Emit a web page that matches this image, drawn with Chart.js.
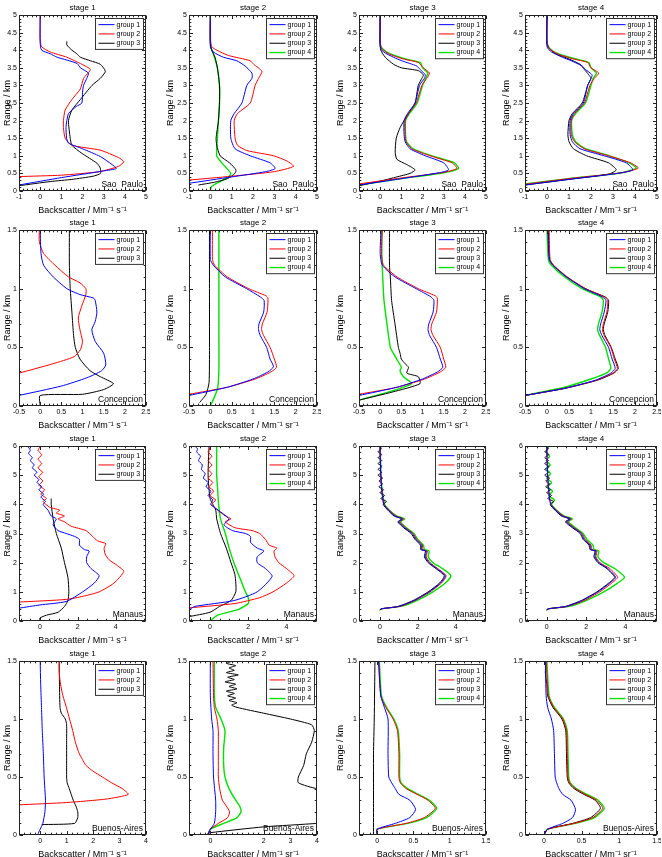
<!DOCTYPE html>
<html><head><meta charset="utf-8">
<script src="https://cdn.jsdelivr.net/npm/chart.js@4"></script>
<style>
html,body{margin:0;padding:0;background:#fff;}
body{width:662px;height:857px;overflow:hidden;position:relative;}
canvas{position:absolute;}
</style></head><body>
<script>
// ---------- text ----------
const GROUP_LABELS = ['group 1','group 2','group 3','group 4'];
const STAGE_TITLES = ['stage 1','stage 2','stage 3','stage 4'];
const CITIES = ['Sao  Paulo','Concepcion','Manaus','Buenos-Aires'];
const X_LABEL_S = 'Backscatter / Mm\u207B\u00B9 s\u207B\u00B9';
const X_LABEL_SR = 'Backscatter / Mm\u207B\u00B9 sr\u207B\u00B9';
const Y_LABEL = 'Range / km';

// ---------- tick labels ----------
const SP_XTICKS = [-1,0,1,2,3,4,5];
const SP_YTICKS = [0,0.5,1,1.5,2,2.5,3,3.5,4,4.5,5];
const CO_XTICKS = [-0.5,0,0.5,1,1.5,2,2.5];
const CO_YTICKS = [0,0.5,1,1.5];
const MA_XTICKS = [0,2,4];
const MA_YTICKS = [0,1,2,3,4,5,6];
const BA_XTICKS_A = [0,1,2,3,4];
const BA_XTICKS_B = [0,2,3,4];
const BA_XTICKS_C = [0,0.5,1,1.5];
const BA_YTICKS = [0,0.5,1,1.5];

// ---------- series: [backscatter, range km] ----------
// Sao Paulo
const SP1_G1 = [[-1,0.17],[1,0.38],[3,0.57],[3.6,0.64],[3.4,0.75],[2.84,0.98],[2.0,1.2],[1.34,1.36],[1.25,1.5],[1.22,1.8],[1.26,2.0],[1.34,2.2],[1.7,2.4],[1.97,2.5],[2.0,2.8],[2.05,3.0],[2.2,3.2],[2.28,3.35],[1.9,3.5],[1.75,3.62],[1.26,3.72],[0.8,3.8],[0.47,3.9],[0.07,4.0],[0,4.2],[0,5]];
const SP1_G2 = [[-1,0.41],[1,0.45],[2.8,0.55],[3.7,0.7],[3.95,0.83],[3.7,0.95],[2.84,1.16],[1.5,1.3],[1.18,1.5],[1.1,1.8],[1.1,2.0],[1.18,2.3],[1.5,2.6],[1.9,2.9],[2.05,3.2],[2.37,3.45],[1.97,3.6],[1.26,3.8],[0.47,3.95],[0.07,4.1],[0,4.3],[0,5]];
const SP1_G3 = [[-1,0.15],[0.5,0.27],[1.5,0.33],[2.5,0.42],[2.85,0.5],[2.84,0.65],[2.68,0.79],[1.97,1.07],[1.5,1.3],[1.42,1.5],[1.34,2.0],[1.5,2.3],[1.9,2.6],[2.45,3.0],[2.84,3.2],[3.08,3.4],[2.84,3.6],[2.37,3.7],[1.9,3.8],[1.73,3.9],[1.5,4.0],[1.26,4.15],[1.26,4.25]];
const SP2_G1 = [[-1,0.22],[1,0.4],[2.6,0.55],[3.04,0.64],[2.8,0.8],[1.87,1.0],[1.16,1.2],[0.96,1.5],[0.96,2.0],[1.12,2.2],[1.48,2.5],[1.71,3.0],[1.95,3.2],[1.95,3.35],[1.63,3.55],[1.24,3.7],[0.61,3.8],[0.14,3.95],[0,4.1],[0,5]];
const SP2_G2 = [[-1,0.31],[1,0.42],[3,0.55],[3.9,0.7],[3.6,0.85],[2.97,1.0],[1.71,1.15],[1.27,1.3],[1.16,1.5],[1.12,2.0],[1.27,2.2],[1.87,2.5],[2.1,3.0],[2.26,3.2],[2.42,3.4],[2.03,3.6],[1.87,3.7],[0.85,3.85],[0.3,4.0],[0.07,4.1],[0,4.3],[0,5]];
const SP2_G3 = [[-0.56,0.17],[0.2,0.25],[0.8,0.35],[1.15,0.5],[1.2,0.6],[0.9,0.8],[0.46,1.0],[0.3,1.3],[0.27,1.5],[0.38,2.0],[0.43,2.5],[0.43,3.0],[0.33,3.5],[0.22,3.8],[0.07,4.0],[0,4.2],[0,5]];
const SP2_G4 = [[0,0],[0.05,0.12],[0.3,0.22],[0.85,0.4],[0.96,0.5],[0.54,0.8],[0.3,1.0],[0.33,1.5],[0.38,2.0],[0.43,2.5],[0.43,3.0],[0.33,3.5],[0.14,3.9],[0.02,4.1],[0,5]];
const SP3_G1 = [[-1,0.17],[1,0.35],[2.8,0.52],[3.23,0.6],[3.0,0.8],[2.13,1.0],[1.41,1.2],[1.18,1.4],[1.13,1.6],[1.13,2.0],[1.29,2.2],[1.65,2.5],[1.86,3.0],[2.09,3.2],[2.13,3.3],[1.89,3.45],[1.73,3.55],[1.02,3.7],[0.63,3.8],[0.16,3.95],[0,4.1],[0,5]];
const SP3_G2 = [[-1,0.2],[1,0.37],[3,0.53],[3.62,0.64],[3.4,0.8],[2.36,1.0],[1.49,1.2],[1.22,1.4],[1.18,1.6],[1.18,2.0],[1.34,2.2],[1.7,2.5],[1.97,3.0],[2.2,3.2],[2.33,3.35],[2.04,3.5],[1.8,3.65],[1.1,3.75],[0.39,3.9],[0.08,4.05],[0,4.2],[0,5]];
const SP3_G3 = [[-1,0.15],[0,0.28],[0.79,0.4],[1.41,0.5],[1.65,0.6],[1.26,0.75],[0.79,0.9],[0.71,1.1],[0.76,1.5],[0.94,1.8],[1.13,2.0],[1.34,2.2],[1.65,2.5],[1.8,3.0],[1.97,3.2],[2.04,3.3],[1.8,3.42],[1.0,3.5],[0.63,3.6],[0.24,3.8],[0.03,4.0],[0,4.2],[0,5]];
const SP3_G4 = [[-1,0.17],[1,0.35],[3,0.52],[3.7,0.64],[3.5,0.8],[2.45,1.0],[1.55,1.2],[1.25,1.4],[1.2,1.6],[1.2,2.0],[1.38,2.2],[1.75,2.5],[2.0,3.0],[2.15,3.2],[2.25,3.35],[2.0,3.5],[1.9,3.65],[1.2,3.75],[0.45,3.9],[0.1,4.05],[0,4.2],[0,5]];
const SP4_G1 = [[-1,0.17],[1,0.33],[3.2,0.5],[3.9,0.6],[3.6,0.8],[2.6,1.0],[1.5,1.2],[1.15,1.4],[1.05,1.6],[1.05,2.0],[1.2,2.2],[1.65,2.5],[1.85,3.0],[2.0,3.2],[2.05,3.3],[1.75,3.45],[1.6,3.55],[1.1,3.7],[0.7,3.8],[0.2,3.95],[0,4.1],[0,5]];
const SP4_G2 = [[-1,0.19],[1,0.35],[3.4,0.52],[4.15,0.65],[3.8,0.8],[2.8,1.0],[1.7,1.2],[1.25,1.4],[1.1,1.6],[1.1,2.0],[1.25,2.2],[1.7,2.5],[1.95,3.0],[2.15,3.2],[2.35,3.35],[2.0,3.5],[1.85,3.65],[1.2,3.75],[0.45,3.9],[0.1,4.05],[0,4.2],[0,5]];
const SP4_G3 = [[-1,0.17],[1,0.33],[2.8,0.48],[3.15,0.6],[2.8,0.8],[1.8,1.0],[1.2,1.2],[1.0,1.4],[0.95,1.6],[1.0,2.0],[1.15,2.2],[1.6,2.5],[1.85,3.0],[2.0,3.2],[1.9,3.3],[1.7,3.45],[1.5,3.6],[1.0,3.75],[0.4,3.9],[0.1,4.05],[0,4.2],[0,5]];
const SP4_G4 = [[-1,0.2],[1,0.35],[3.4,0.52],[4.05,0.65],[3.75,0.8],[2.85,1.0],[1.75,1.2],[1.3,1.4],[1.15,1.6],[1.12,2.0],[1.3,2.2],[1.75,2.5],[2.0,3.0],[2.1,3.2],[2.25,3.35],[2.0,3.5],[1.9,3.65],[1.3,3.75],[0.5,3.9],[0.12,4.05],[0,4.2],[0,5]];
// Concepcion
const CO1_G1 = [[-0.5,0.09],[0.5,0.17],[1.1,0.24],[1.45,0.3],[1.55,0.35],[1.5,0.45],[1.3,0.55],[1.22,0.65],[1.3,0.72],[1.34,0.8],[1.3,0.9],[1.26,0.92],[0.94,0.95],[0.63,1.0],[0.31,1.1],[0.08,1.2],[0.02,1.3],[0,1.5]];
const CO1_G2 = [[-0.5,0.28],[0.3,0.36],[0.8,0.42],[0.95,0.48],[1.0,0.55],[0.94,0.65],[0.9,0.75],[0.98,0.85],[1.08,0.95],[1.08,1.0],[0.94,1.05],[0.67,1.1],[0.35,1.2],[0.08,1.3],[-0.02,1.4],[-0.02,1.5]];
const CO1_G3 = [[0,0],[0,0.09],[1.0,0.1],[1.5,0.14],[1.73,0.19],[1.42,0.25],[1.18,0.3],[0.94,0.4],[0.83,0.5],[0.79,0.6],[0.75,0.8],[0.71,1.0],[0.69,1.2],[0.69,1.5]];
const CO2_G1 = [[-0.5,0.09],[0.4,0.16],[1.0,0.23],[1.35,0.29],[1.48,0.335],[1.4,0.4],[1.32,0.5],[1.17,0.6],[1.13,0.65],[1.14,0.7],[1.25,0.8],[1.26,0.9],[1.17,0.93],[0.85,1.0],[0.35,1.1],[0.07,1.2],[0,1.25],[0,1.5]];
const CO2_G2 = [[-0.5,0.1],[0.4,0.16],[1.05,0.23],[1.42,0.29],[1.55,0.33],[1.5,0.4],[1.4,0.5],[1.25,0.6],[1.2,0.65],[1.22,0.7],[1.33,0.8],[1.35,0.92],[1.3,0.94],[0.9,1.0],[0.4,1.1],[0.1,1.2],[0.05,1.25],[0.05,1.5]];
const CO2_G3 = [[-0.25,0.03],[-0.1,0.1],[-0.03,0.2],[-0.02,0.5],[-0.02,1.0],[-0.02,1.5]];
const CO2_G4 = [[0,0],[0.1,0.08],[0.17,0.15],[0.2,0.3],[0.2,0.7],[0.2,1.0],[0.2,1.5]];
const CO3_G1 = [[-0.5,0.09],[0.4,0.16],[1.0,0.23],[1.35,0.29],[1.48,0.33],[1.42,0.4],[1.33,0.5],[1.17,0.6],[1.13,0.65],[1.15,0.7],[1.25,0.8],[1.27,0.9],[1.2,0.93],[0.85,1.0],[0.35,1.1],[0.05,1.2],[0.0,1.3],[0.02,1.5]];
const CO3_G2 = [[-0.5,0.1],[0.4,0.16],[1.05,0.23],[1.42,0.29],[1.55,0.33],[1.5,0.4],[1.42,0.5],[1.25,0.6],[1.2,0.65],[1.22,0.7],[1.33,0.8],[1.35,0.92],[1.3,0.94],[0.9,1.0],[0.4,1.1],[0.08,1.2],[0.03,1.3],[0.05,1.5]];
const CO3_G3 = [[-0.5,0.05],[0.3,0.12],[0.94,0.19],[0.9,0.25],[0.63,0.28],[0.67,0.33],[0.59,0.36],[0.5,0.4],[0.47,0.45],[0.43,0.5],[0.35,0.7],[0.27,0.9],[0.24,1.1],[0.22,1.2],[0.22,1.5]];
const CO3_G4 = [[-0.5,0.05],[0.2,0.12],[0.74,0.19],[0.55,0.25],[0.47,0.3],[0.5,0.33],[0.39,0.4],[0.31,0.45],[0.24,0.5],[0.16,0.7],[0.09,0.9],[0.06,1.1],[0.04,1.3],[0.04,1.5]];
const CO4_G1 = [[-0.5,0.09],[0.4,0.15],[1.1,0.22],[1.45,0.28],[1.55,0.32],[1.48,0.4],[1.4,0.5],[1.25,0.6],[1.2,0.65],[1.22,0.7],[1.3,0.8],[1.34,0.9],[1.26,0.93],[0.85,1.0],[0.44,1.1],[0.13,1.2],[0.05,1.25],[0.02,1.5]];
const CO4_G2 = [[-0.5,0.09],[0.4,0.15],[1.12,0.22],[1.5,0.28],[1.6,0.32],[1.53,0.4],[1.45,0.5],[1.3,0.6],[1.26,0.65],[1.28,0.7],[1.36,0.8],[1.38,0.9],[1.3,0.93],[0.88,1.0],[0.46,1.1],[0.15,1.2],[0.07,1.25],[0.05,1.5]];
const CO4_G3 = [[-0.5,0.09],[0.4,0.15],[1.15,0.22],[1.52,0.28],[1.62,0.32],[1.55,0.4],[1.46,0.5],[1.32,0.6],[1.28,0.65],[1.3,0.7],[1.38,0.8],[1.4,0.9],[1.32,0.93],[0.87,1.0],[0.45,1.1],[0.14,1.2],[0.06,1.25],[0.03,1.5]];
const CO4_G4 = [[-0.5,0.09],[0.4,0.16],[1.0,0.23],[1.35,0.28],[1.45,0.32],[1.4,0.4],[1.33,0.5],[1.2,0.6],[1.15,0.65],[1.17,0.7],[1.25,0.8],[1.28,0.9],[1.22,0.93],[0.8,1.0],[0.4,1.1],[0.1,1.2],[0.03,1.25],[0.0,1.5]];
// Manaus
const MA1_G1 = [[-1.1,0.44],[0,0.55],[1.39,0.67],[2.26,1.0],[2.87,1.3],[3.13,1.55],[2.7,1.8],[2.47,2.0],[2.47,2.2],[2.6,2.4],[2.35,2.45],[2.09,2.6],[2.09,2.8],[1.83,2.9],[1.39,3.0],[0.96,3.1],[0.7,3.3],[0.87,3.5],[0.6,3.6],[0.43,3.8],[0.17,4.0],[0.3,4.1],[0.05,4.25],[0.2,4.35],[-0.05,4.5],[0.1,4.6],[-0.15,4.75],[-0.05,4.85],[-0.3,5.0],[-0.15,5.1],[-0.4,5.25],[-0.3,5.35],[-0.5,5.5],[-0.4,5.6],[-0.6,5.75],[-0.5,5.85],[-0.65,6]];
const MA1_G2 = [[-1.1,0.65],[1.4,0.74],[2.3,0.85],[3.13,1.0],[3.91,1.3],[4.43,1.7],[4.09,1.9],[3.65,2.1],[3.44,2.3],[3.39,2.5],[3.48,2.65],[3.04,2.75],[2.78,2.9],[2.43,3.1],[1.65,3.25],[1.3,3.4],[0.96,3.5],[1.3,3.6],[0.87,3.7],[1.04,3.8],[0.52,3.9],[0.17,4.1],[0.35,4.2],[0.05,4.35],[0.25,4.5],[-0.05,4.65],[0.15,4.8],[-0.05,4.95],[0.15,5.1],[-0.1,5.25],[0.1,5.4],[-0.1,5.55],[0.1,5.7],[-0.1,5.85],[0.05,6]];
const MA1_G3 = [[0,0],[0,0.1],[0.35,0.2],[0.96,0.3],[1.3,0.5],[1.48,0.7],[1.53,1.0],[1.48,1.5],[1.3,2.0],[1.13,2.5],[0.87,3.0],[0.7,3.5],[0.6,4.0],[0.6,4.2]];
const MA2_G1 = [[-1.1,0.38],[-0.8,0.5],[1.25,0.7],[2.47,1.0],[3.25,1.53],[2.9,1.8],[2.47,2.0],[2.47,2.2],[2.82,2.4],[2.47,2.5],[2.12,2.7],[2.12,2.9],[1.86,3.0],[1.17,3.1],[0.73,3.3],[0.99,3.5],[0.64,3.7],[0.21,3.9],[0.03,4.0],[0.15,4.15],[-0.1,4.3],[0.05,4.45],[-0.2,4.6],[-0.1,4.75],[-0.35,4.9],[-0.25,5.05],[-0.45,5.2],[-0.4,5.35],[-0.6,5.5],[-0.5,5.65],[-0.7,5.8],[-0.65,5.9],[-0.8,6]];
const MA2_G2 = [[-1.1,0.45],[1.3,0.6],[2.6,0.8],[3.3,1.0],[4.0,1.3],[4.4,1.55],[4.0,1.8],[3.6,2.0],[3.4,2.2],[3.35,2.4],[3.5,2.5],[3.1,2.6],[2.9,2.8],[2.6,3.0],[2.2,3.1],[1.3,3.2],[0.8,3.4],[1.1,3.5],[0.8,3.6],[0.4,3.8],[0.1,4.0],[0.3,4.15],[0.0,4.3],[0.2,4.45],[-0.05,4.6],[0.15,4.75],[-0.1,4.9],[0.1,5.05],[-0.1,5.2],[0.1,5.35],[-0.1,5.5],[0.1,5.65],[-0.1,5.8],[0.05,6]];
const MA2_G3 = [[-1.1,0.15],[0,0.3],[0.5,0.5],[1.1,0.7],[1.35,1.0],[1.35,1.3],[1.3,1.6],[1.1,2.0],[0.85,2.5],[0.55,3.0],[0.35,3.5],[0.3,3.8],[0.15,4.0],[0,4.2],[-0.1,5],[-0.05,6]];
const MA2_G4 = [[0,0],[0.4,0.2],[1.5,0.4],[2.0,0.6],[2.0,0.8],[1.85,1.0],[1.55,1.5],[1.25,2.0],[1.0,2.5],[0.8,3.0],[0.55,3.5],[0.45,4.0],[0.4,4.5],[0.35,5],[0.35,6]];
const MA3_G1 = [[0,0.38],[0.1,0.42],[1.0,0.5],[1.8,0.7],[2.6,1.0],[3.2,1.3],[3.45,1.55],[3.0,1.8],[2.6,2.0],[2.4,2.2],[2.45,2.4],[2.2,2.45],[2.2,2.6],[1.9,2.8],[1.7,3.0],[1.3,3.2],[1.0,3.4],[1.2,3.5],[0.8,3.6],[0.45,3.8],[0.2,4.0],[0.1,4.5],[0.05,5],[0,6]];
const MA3_G2 = [[0,0.38],[0.1,0.42],[1.05,0.5],[1.85,0.7],[2.65,1.0],[3.25,1.3],[3.5,1.55],[3.05,1.8],[2.65,2.0],[2.45,2.2],[2.5,2.4],[2.25,2.45],[2.25,2.6],[1.95,2.8],[1.75,3.0],[1.35,3.2],[1.05,3.4],[1.25,3.5],[0.85,3.6],[0.5,3.8],[0.22,4.0],[0.1,4.5],[0.05,5],[0,6]];
const MA3_G3 = [[0,0.38],[0.1,0.42],[0.95,0.5],[1.75,0.7],[2.55,1.0],[3.15,1.3],[3.4,1.55],[2.95,1.8],[2.55,2.0],[2.35,2.2],[2.4,2.4],[2.15,2.45],[2.15,2.6],[1.85,2.8],[1.65,3.0],[1.25,3.2],[0.95,3.4],[1.15,3.5],[0.75,3.6],[0.42,3.8],[0.18,4.0],[0.35,4.1],[0.05,4.2],[0.25,4.3],[0.0,4.4],[0.2,4.5],[-0.05,4.6],[0.15,4.7],[-0.05,4.8],[0.15,4.9],[-0.1,5.0],[0.1,5.1],[-0.1,5.2],[0.12,5.3],[-0.1,5.4],[0.1,5.5],[-0.1,5.6],[0.1,5.7],[-0.1,5.8],[0.08,5.9],[0,6]];
const MA3_G4 = [[0,0.38],[0.1,0.42],[1.1,0.5],[1.95,0.7],[2.8,1.0],[3.45,1.3],[3.75,1.55],[3.3,1.8],[2.8,2.0],[2.55,2.2],[2.6,2.4],[2.35,2.45],[2.3,2.6],[2.0,2.8],[1.8,3.0],[1.4,3.2],[1.1,3.4],[1.3,3.5],[0.9,3.6],[0.5,3.8],[0.25,4.0],[0.12,4.5],[0.06,5],[0.02,6]];
const MA4_G1 = [[0,0.38],[0.1,0.42],[1.0,0.5],[1.8,0.7],[2.6,1.0],[3.2,1.3],[3.5,1.5],[3.1,1.8],[2.65,2.0],[2.45,2.2],[2.5,2.4],[2.25,2.45],[2.2,2.6],[1.9,2.8],[1.75,3.0],[1.35,3.2],[1.0,3.4],[1.2,3.5],[0.8,3.6],[0.45,3.8],[0.2,4.0],[0.1,4.5],[0.05,5],[0,6]];
const MA4_G2 = [[0,0.38],[0.1,0.42],[1.05,0.5],[1.9,0.7],[2.7,1.0],[3.3,1.3],[3.6,1.5],[3.2,1.8],[2.7,2.0],[2.5,2.2],[2.55,2.4],[2.3,2.45],[2.25,2.6],[1.95,2.8],[1.8,3.0],[1.4,3.2],[1.05,3.4],[1.25,3.5],[0.85,3.6],[0.5,3.8],[0.22,4.0],[0.1,4.5],[0.05,5],[0,6]];
const MA4_G3 = [[0,0.38],[0.1,0.42],[0.95,0.5],[1.75,0.7],[2.55,1.0],[3.15,1.3],[3.45,1.5],[3.05,1.8],[2.6,2.0],[2.4,2.2],[2.45,2.4],[2.2,2.45],[2.15,2.6],[1.85,2.8],[1.7,3.0],[1.3,3.2],[0.95,3.4],[1.15,3.5],[0.75,3.6],[0.42,3.8],[0.18,4.0],[0.35,4.1],[0.05,4.2],[0.25,4.3],[0.0,4.4],[0.2,4.5],[-0.05,4.6],[0.15,4.7],[-0.05,4.8],[0.15,4.9],[-0.1,5.0],[0.1,5.1],[-0.1,5.2],[0.12,5.3],[-0.1,5.4],[0.1,5.5],[-0.1,5.6],[0.1,5.7],[-0.1,5.8],[0.08,5.9],[0,6]];
const MA4_G4 = [[0,0.38],[0.1,0.42],[1.15,0.5],[2.0,0.7],[2.9,1.0],[3.6,1.3],[3.95,1.5],[3.45,1.8],[2.9,2.0],[2.6,2.2],[2.65,2.4],[2.4,2.45],[2.35,2.6],[2.05,2.8],[1.85,3.0],[1.45,3.2],[1.1,3.4],[1.3,3.5],[0.9,3.6],[0.5,3.8],[0.25,4.0],[0.4,4.15],[0.1,4.3],[0.3,4.45],[0.05,4.6],[0.25,4.75],[0.0,4.9],[0.2,5.05],[0.0,5.2],[0.18,5.35],[-0.02,5.5],[0.15,5.65],[0.0,5.8],[0.1,6]];
// Buenos Aires
const BA1_G1 = [[-0.1,0],[0,0.05],[0.1,0.1],[0.18,0.2],[0.2,0.3],[0.15,0.5],[0.12,0.7],[0.08,0.9],[0.05,1.1],[0.02,1.3],[0,1.5]];
const BA1_G2 = [[-0.8,0.26],[1.0,0.28],[2.5,0.31],[3.33,0.35],[3.1,0.4],[2.7,0.45],[2.35,0.5],[2.0,0.55],[1.73,0.6],[1.6,0.65],[1.48,0.7],[1.33,0.8],[1.23,0.9],[1.11,1.0],[0.99,1.1],[0.86,1.2],[0.77,1.3],[0.72,1.4],[0.72,1.5]];
const BA1_G3 = [[0.06,0.09],[1.3,0.1],[1.42,0.15],[1.42,0.2],[1.35,0.25],[1.25,0.3],[1.1,0.4],[1.02,0.45],[1.0,0.5],[1.0,0.6],[1.0,0.8],[1.0,0.95],[0.95,1.0],[0.8,1.05],[0.75,1.1],[0.73,1.3],[0.72,1.5]];
const BA2_G1 = [[-0.1,0],[0,0.05],[0.15,0.1],[0.2,0.2],[0.2,0.3],[0.12,0.5],[0.1,0.7],[0.1,0.9],[0.05,1.0],[0,1.2],[0,1.5]];
const BA2_G2 = [[-0.1,0],[0,0.05],[0.3,0.1],[0.65,0.15],[0.72,0.2],[0.6,0.25],[0.45,0.3],[0.35,0.4],[0.3,0.5],[0.3,0.6],[0.3,0.8],[0.3,0.9],[0.25,1.0],[0.15,1.1],[0.12,1.2],[0.1,1.5]];
const BA2_G3 = [[-0.1,0.01],[0,0.02],[2.0,0.07],[4.0,0.1],[6,0.14],[6,0.38],[4.0,0.4],[3.3,0.45],[3.3,0.5],[3.5,0.6],[3.6,0.7],[3.8,0.8],[3.9,0.9],[3.8,0.95],[3.0,1.0],[2.0,1.05],[1.0,1.1],[0.8,1.12],[1.0,1.14],[0.7,1.16],[0.95,1.18],[0.65,1.2],[0.9,1.22],[0.6,1.24],[1.0,1.26],[0.7,1.28],[0.95,1.3],[0.55,1.32],[0.9,1.34],[0.65,1.36],[1.05,1.38],[0.6,1.4],[0.9,1.42],[0.7,1.44],[0.95,1.46],[0.6,1.48],[0.85,1.5]];
const BA2_G4 = [[-0.1,0],[0,0.05],[0.5,0.1],[1.0,0.15],[1.15,0.2],[1.1,0.25],[0.95,0.3],[0.7,0.4],[0.55,0.5],[0.5,0.6],[0.5,0.75],[0.55,0.9],[0.4,1.0],[0.3,1.05],[0.2,1.1],[0.15,1.2],[0.15,1.5]];
const BA3_G1 = [[0,0],[0,0.05],[0.25,0.1],[0.45,0.15],[0.53,0.22],[0.45,0.3],[0.3,0.35],[0.25,0.4],[0.2,0.45],[0.16,0.5],[0.15,0.7],[0.15,1.0],[0.1,1.1],[0.05,1.2],[0.02,1.5]];
const BA3_G2 = [[0,0],[0,0.05],[0.4,0.1],[0.65,0.15],[0.8,0.23],[0.7,0.3],[0.55,0.35],[0.4,0.4],[0.32,0.45],[0.3,0.5],[0.3,0.7],[0.28,0.9],[0.22,1.0],[0.12,1.1],[0.05,1.2],[0.02,1.5]];
const BA3_G3 = [[-0.05,0],[-0.05,0.3],[-0.05,0.7],[-0.04,1.0],[-0.03,1.5]];
const BA3_G4 = [[0,0],[0,0.05],[0.42,0.1],[0.68,0.15],[0.82,0.23],[0.72,0.3],[0.57,0.35],[0.42,0.4],[0.33,0.45],[0.31,0.5],[0.31,0.7],[0.29,0.9],[0.23,1.0],[0.13,1.1],[0.06,1.2],[0.03,1.5]];
const BA4_G1 = [[0,0],[0.05,0.05],[0.25,0.1],[0.38,0.15],[0.42,0.22],[0.36,0.3],[0.25,0.35],[0.2,0.4],[0.17,0.45],[0.15,0.5],[0.14,0.7],[0.13,0.9],[0.1,1.0],[0.05,1.1],[0.03,1.2],[0.02,1.5]];
const BA4_G2 = [[0,0],[0.05,0.05],[0.4,0.1],[0.65,0.15],[0.78,0.23],[0.7,0.3],[0.55,0.35],[0.42,0.4],[0.34,0.45],[0.32,0.5],[0.31,0.7],[0.3,0.9],[0.25,1.0],[0.13,1.1],[0.06,1.2],[0.03,1.5]];
const BA4_G3 = [[0,0],[0.05,0.05],[0.38,0.1],[0.62,0.15],[0.75,0.23],[0.68,0.3],[0.53,0.35],[0.4,0.4],[0.33,0.45],[0.31,0.5],[0.3,0.7],[0.29,0.9],[0.24,1.0],[0.12,1.1],[0.05,1.2],[0.04,1.3],[0.02,1.4],[0.03,1.5]];
const BA4_G4 = [[0,0],[0.05,0.05],[0.42,0.1],[0.67,0.15],[0.8,0.23],[0.72,0.3],[0.57,0.35],[0.43,0.4],[0.35,0.45],[0.33,0.5],[0.32,0.7],[0.31,0.9],[0.26,1.0],[0.14,1.1],[0.07,1.2],[0.04,1.5]];

// ---------- layout & style ----------
const COLORS = ['rgb(0,0,255)','rgb(255,0,0)','rgb(0,0,0)','rgb(0,225,0)'];
const WIDTHS = [1,1,1,1.4];
const FONT = "'Liberation Sans', Arial, sans-serif";
const COLS = [{left:0,yw:19,pw:127,tp:2.5},{left:164,yw:25,pw:128,tp:1},{left:334,yw:25,pw:127,tp:1},{left:500,yw:25,pw:132,tp:1}];
const ROWS = [{top:0,ph:176},{top:215,ph:176},{top:431,ph:175},{top:646,ph:174}];

const ROW_SCALES = [
  {x:[-1,5], xt:[SP_XTICKS,SP_XTICKS,SP_XTICKS,SP_XTICKS], xm:0.2, y:[0,5], yt:SP_YTICKS, ym:0.1},
  {x:[-0.5,2.5], xt:[CO_XTICKS,CO_XTICKS,CO_XTICKS,CO_XTICKS], xm:0.1, y:[0,1.5], yt:CO_YTICKS, ym:0.1},
  {x:[-1.1,5.6], xt:[MA_XTICKS,MA_XTICKS,MA_XTICKS,MA_XTICKS], xm:0.5, y:[0,6], yt:MA_YTICKS, ym:0.2},
  {x:[-0.8,4], xt:[BA_XTICKS_A,BA_XTICKS_B,BA_XTICKS_C,BA_XTICKS_C], xm:0.2, y:[0,1.5], yt:BA_YTICKS, ym:0.1}
];
const BA_X_RANGE_34 = [-0.25,1.5];

const SERIES = [
  [[SP1_G1,SP1_G2,SP1_G3],[SP2_G1,SP2_G2,SP2_G3,SP2_G4],[SP3_G1,SP3_G2,SP3_G3,SP3_G4],[SP4_G1,SP4_G2,SP4_G3,SP4_G4]],
  [[CO1_G1,CO1_G2,CO1_G3],[CO2_G1,CO2_G2,CO2_G3,CO2_G4],[CO3_G1,CO3_G2,CO3_G3,CO3_G4],[CO4_G1,CO4_G2,CO4_G3,CO4_G4]],
  [[MA1_G1,MA1_G2,MA1_G3],[MA2_G1,MA2_G2,MA2_G3,MA2_G4],[MA3_G1,MA3_G2,MA3_G3,MA3_G4],[MA4_G1,MA4_G2,MA4_G3,MA4_G4]],
  [[BA1_G1,BA1_G2,BA1_G3],[BA2_G1,BA2_G2,BA2_G3,BA2_G4],[BA3_G1,BA3_G2,BA3_G3,BA3_G4],[BA4_G1,BA4_G2,BA4_G3,BA4_G4]]
];

const decorPlugin = {
  id: 'decor',
  afterDatasetsDraw(chart) {
    const o = chart.options.plugins.decor;
    const {ctx, chartArea: a, scales: {x, y}} = chart;
    ctx.save();
    ctx.strokeStyle = '#222'; ctx.lineWidth = 1;
    const L = Math.round(a.left) + 0.5, T = Math.round(a.top) + 0.5;
    const R = Math.round(a.right) - 0.5, B = Math.round(a.bottom) - 0.5;
    ctx.strokeRect(L, T, R - L, B - T);
    ctx.beginPath();
    const isMajor = (v, arr) => arr.some(t => Math.abs(t - v) < 1e-6);
    const xs = Math.ceil(x.min / o.xm - 1e-6), xe = Math.floor(x.max / o.xm + 1e-6);
    for (let k = xs; k <= xe; k++) {
      const v = k * o.xm;
      const len = isMajor(v, o.xMajor) ? 3.5 : 1.8;
      const px = Math.round(x.getPixelForValue(v)) + 0.5;
      ctx.moveTo(px, B); ctx.lineTo(px, B - len);
      ctx.moveTo(px, T); ctx.lineTo(px, T + len);
    }
    const ys = Math.ceil(y.min / o.ym - 1e-6), ye = Math.floor(y.max / o.ym + 1e-6);
    for (let k = ys; k <= ye; k++) {
      const v = k * o.ym;
      const len = isMajor(v, o.yMajor) ? 3.5 : 1.8;
      const py = Math.round(y.getPixelForValue(v)) + 0.5;
      ctx.moveTo(L, py); ctx.lineTo(L + len, py);
      ctx.moveTo(R, py); ctx.lineTo(R - len, py);
    }
    ctx.stroke();
    // title
    ctx.fillStyle = '#000';
    ctx.font = '8px ' + FONT;
    ctx.textAlign = 'center'; ctx.textBaseline = 'middle';
    ctx.fillText(o.title, (a.left + a.right) / 2, a.top - 7);
    // city
    ctx.font = '8.5px ' + FONT;
    ctx.textAlign = 'right'; ctx.textBaseline = 'alphabetic';
    ctx.fillText(o.city, a.right - 3, a.bottom - 4);
    // legend
    const ds = chart.data.datasets;
    const lh = 9.3, bw = 48, bh = ds.length * lh + 3;
    const bx = Math.round(a.right - 3 - bw) + 0.5, by = Math.round(a.top + 3) + 0.5;
    ctx.fillStyle = '#fff'; ctx.fillRect(bx, by, bw, bh);
    ctx.strokeStyle = '#333'; ctx.strokeRect(bx, by, bw, bh);
    ctx.font = '7px ' + FONT; ctx.textAlign = 'left'; ctx.textBaseline = 'middle';
    ds.forEach((d, i) => {
      const yy = by + 1.5 + lh * (i + 0.5);
      ctx.beginPath(); ctx.strokeStyle = d.borderColor; ctx.lineWidth = d.borderWidth;
      ctx.moveTo(bx + 3, yy); ctx.lineTo(bx + 19, yy); ctx.stroke();
      ctx.fillStyle = '#000'; ctx.fillText(d.label, bx + 21, yy);
    });
    ctx.restore();
  }
};

for (let r = 0; r < 4; r++) {
  for (let c = 0; c < 4; c++) {
    const col = COLS[c], row = ROWS[r], sc = ROW_SCALES[r];
    const w = col.yw + col.pw + 4, h = 15 + row.ph + 25;
    const cv = document.createElement('canvas');
    cv.width = w; cv.height = h;
    cv.style.left = col.left + 'px'; cv.style.top = row.top + 'px';
    cv.style.width = w + 'px'; cv.style.height = h + 'px';
    document.body.appendChild(cv);
    const xr = (r === 3 && c >= 2) ? BA_X_RANGE_34 : sc.x;
    const xTicks = sc.xt[c];
    const xm = (r === 3 && c >= 2) ? 0.1 : sc.xm;
    const series = SERIES[r][c];
    new Chart(cv, {
      type: 'scatter',
      data: {
        datasets: series.map((pts, i) => ({
          label: GROUP_LABELS[i],
          data: pts.map(p => ({x: p[0], y: p[1]})),
          showLine: true, borderColor: COLORS[i], backgroundColor: COLORS[i],
          borderWidth: WIDTHS[i], pointRadius: 0, tension: 0.2, fill: false
        }))
      },
      options: {
        responsive: false, animation: false, devicePixelRatio: 1,
        layout: {padding: {top: 15, right: 4, left: 0, bottom: 0}},
        plugins: {
          legend: {display: false}, tooltip: {enabled: false}, title: {display: false},
          decor: {title: STAGE_TITLES[c], city: CITIES[r], xMajor: xTicks, yMajor: sc.yt, xm: xm, ym: sc.ym}
        },
        scales: {
          x: {
            type: 'linear', min: xr[0], max: xr[1],
            grid: {display: false, drawTicks: false, tickLength: 0}, border: {display: false},
            ticks: {font: {family: FONT, size: 7}, color: '#000', padding: 2, maxRotation: 0, autoSkip: false, callback: v => String(v)},
            afterBuildTicks: s => { s.ticks = xTicks.map(v => ({value: v})); },
            afterFit: s => { s.height = 25; s.paddingLeft = 0; s.paddingRight = 0; },
            title: {display: true, text: c === 0 ? X_LABEL_S : X_LABEL_SR, color: '#000', font: {family: FONT, size: 9}, padding: {top: 0, bottom: 0}}
          },
          y: {
            type: 'linear', min: sc.y[0], max: sc.y[1],
            grid: {display: false, drawTicks: false, tickLength: 0}, border: {display: false},
            ticks: {font: {family: FONT, size: 7}, color: '#000', padding: 2, autoSkip: false, callback: v => String(v)},
            afterBuildTicks: s => { s.ticks = sc.yt.map(v => ({value: v})); },
            afterFit: s => { s.width = col.yw; s.paddingTop = 0; s.paddingBottom = 0; },
            title: {display: true, text: Y_LABEL, color: '#000', font: {family: FONT, size: 9}, padding: {top: col.tp, bottom: 0}}
          }
        }
      },
      plugins: [decorPlugin]
    });
  }
}
</script>
</body></html>
